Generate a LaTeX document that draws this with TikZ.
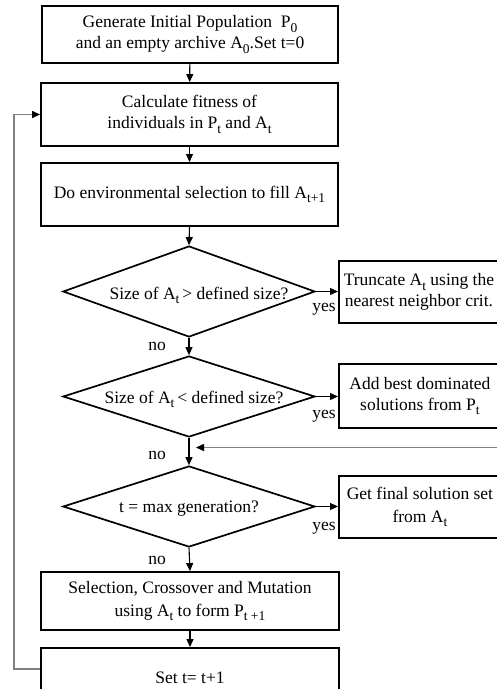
\documentclass[tikz,border=0pt]{standalone}
\usepackage{fontspec}
\setmainfont{Liberation Serif}
\usetikzlibrary{shapes.geometric,arrows.meta}
% lowered, fairly large subscripts
\newcommand{\lowsub}[1]{\raisebox{-4.5pt}{\fontsize{13.5}{13.5}\selectfont #1}}
\begin{document}
\begin{tikzpicture}[x=1pt,y=-1pt,
  every node/.style={font=\fontsize{17.5}{21}\selectfont, align=center, inner sep=0pt},
  box/.style={draw=black, line width=1.9pt, rectangle},
  decision/.style={draw=black, line width=1.7pt, diamond, minimum width=252pt},
  flow/.style={draw=black, line width=1.1pt, -{Triangle[length=8pt,width=7pt]}},
  back/.style={draw=black!50, line width=1.4pt, -{Triangle[length=8pt,width=7pt,color=black]}},
  tag/.style={font=\fontsize{17.5}{21}\selectfont}
]
\path[use as bounding box] (0,0) rectangle (497,689);
\clip (0,0) rectangle (497,689);

% main column
\node[box, minimum width=296pt, minimum height=57pt] (init) at (190,34.5)
  {Generate Initial Population\ \ P\lowsub{0}\\and an empty archive A\lowsub{0}.Set t=0};
\node[box, minimum width=297pt, minimum height=63pt] (fit) at (189.5,114.5)
  {Calculate fitness of\\individuals in P\lowsub{t} and A\lowsub{t}};
\node[box, minimum width=297pt, minimum height=63pt] (env) at (189.5,194.5)
  {Do environmental selection to fill A\lowsub{t+1}};

\node[decision, minimum height=91pt,
  label={[xshift=10pt,yshift=-4pt]center:Size of A\lowsub{t}\,> defined size?}] (big) at (189,291.5) {};
\node[decision, minimum height=81pt,
  label={[xshift=5pt,yshift=-3pt]center:Size of A\lowsub{t}\,< defined size?}] (small) at (189,396.5) {};
\node[decision, minimum height=81pt,
  label={[yshift=-2pt]center:t = max generation?}] (maxgen) at (189,506.5) {};

\node[box, minimum width=298pt, minimum height=58pt] (vary) at (190,601)
  {Selection, Crossover and Mutation\\[2pt]using A\lowsub{t} to form P\lowsub{t +1}};
\node[box, minimum width=298pt, minimum height=60pt] (incr) at (190,678)
  {\raisebox{-6pt}{Set t= t+1}};

% side actions (run off the right edge)
\node[box, minimum width=190pt, minimum height=62pt, anchor=west] (trunc) at (338,292)
  {\hspace*{-30pt}Truncate A\lowsub{t} using the\\\hspace*{-30pt}nearest neighbor crit.};
\node[box, minimum width=190pt, minimum height=64pt, anchor=west] (fill) at (338,396)
  {\hspace*{-28pt}Add best dominated\\\hspace*{-28pt}solutions from P\lowsub{t}};
\node[box, minimum width=190pt, minimum height=62pt, anchor=west] (final) at (338,507)
  {\hspace*{-28pt}Get final solution set\\[2pt]\hspace*{-28pt}from A\lowsub{t}};

% vertical flow
\draw[flow] (init) -- (fit);
\draw[flow] (fit) -- (env);
\draw[flow] (env.south) -- (big.north);
\draw[flow] (big.south) -- (small.north);
\draw[flow] (small.south) -- (maxgen.north);
\draw[flow] (maxgen.south) -- (vary.north);
\draw[flow] (vary) -- (incr);

% yes branches
\draw[flow] (big.east) -- (trunc.west |- big.east);
\draw[flow] (small.east) -- (fill.west |- small.east);
\draw[flow] (maxgen.east) -- (final.west |- maxgen.east);

% return into the main column
\coordinate (rin) at (520,447.5);
\coordinate (rtip) at (196,447.5);
\draw[back] (rin) -- (rtip);

% loop back to fitness evaluation
\coordinate (lx) at (14,669);
\draw[back] (incr.west |- lx) -- (lx) |- (fit.west);

% branch labels
\node[tag] (no1) at (157,346) {no};
\node[tag] (no2) at (157,455) {no};
\node[tag] (no3) at (157,560) {no};
\node[tag] (yes1) at (324,309) {yes};
\node[tag] (yes2) at (324,416) {yes};
\node[tag] (yes3) at (324,528) {yes};
\end{tikzpicture}
\end{document}
